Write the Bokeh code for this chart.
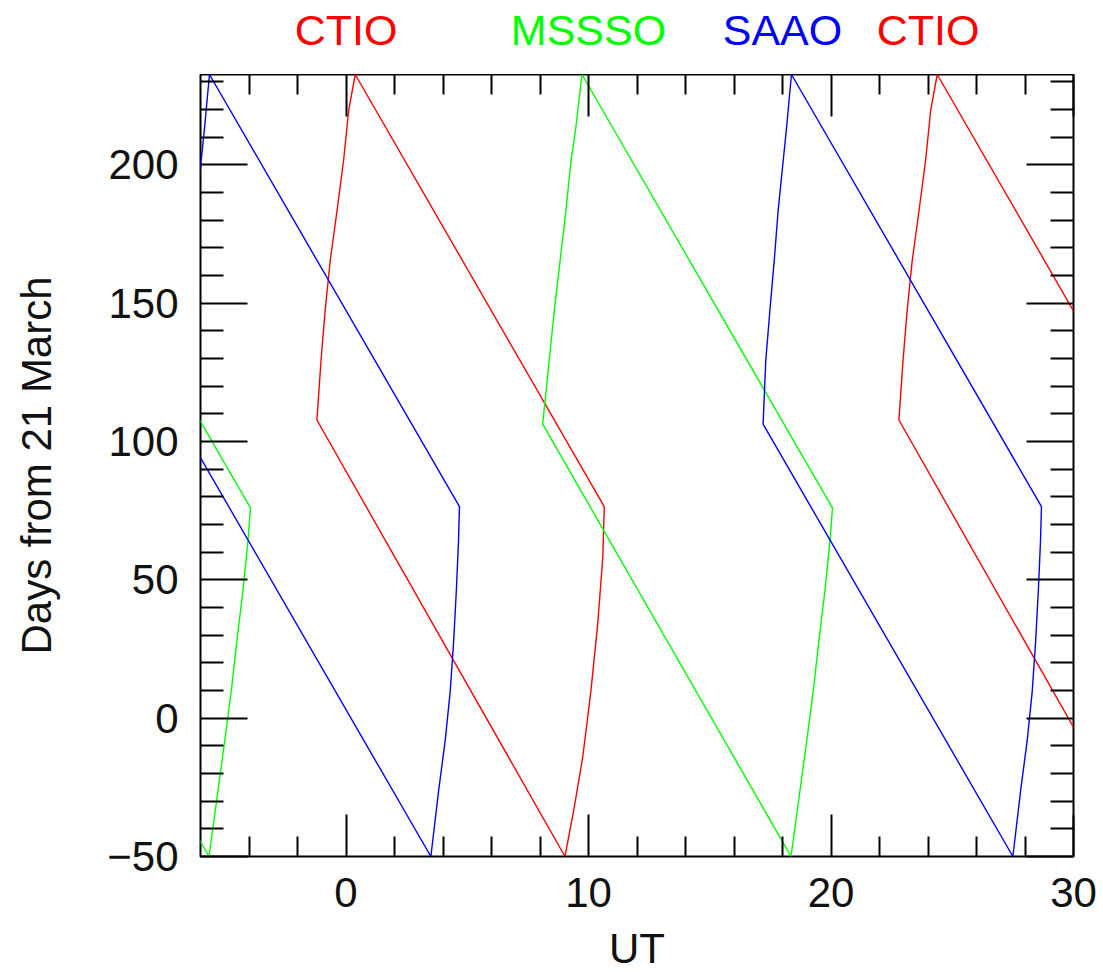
from bokeh.plotting import figure
from bokeh.layouts import column
from bokeh.models import (Range1d, LinearAxis, FixedTicker,
                          ColumnDataSource, CustomJSTickFormatter)
from bokeh.core.properties import value
from bokeh.embed import file_html
from bokeh.resources import INLINE

# Observing-window boundaries (UT hours vs. days from 21 March) for each site.
# Each outline runs: top corner -> evening curve -> lower diagonal ->
# morning curve -> back up the upper diagonal to the top corner.
ctio_ut = [0.38, 0.11, -0.10, -0.37, -0.65, -0.86, -1.03, -1.20,
           9.03, 9.41, 9.76, 10.10, 10.38, 10.59, 10.65, 0.38]
ctio_day = [232.7, 219.7, 201.6, 183.5, 165.5, 147.4, 129.3, 107.8,
            -50.0, -32.3, -14.2, 9.9, 34.1, 58.2, 76.5, 232.7]

mssso_ut = [9.73, 9.48, 9.28, 9.07, 8.83, 8.59, 8.38, 8.11,
            18.35, 18.72, 19.00, 19.27, 19.50, 19.75, 19.96, 20.06, 9.73]
mssso_day = [232.7, 213.7, 201.6, 183.5, 165.5, 147.4, 129.3, 106.3,
             -50.0, -26.2, -8.1, 9.9, 28.0, 46.1, 64.2, 76.0, 232.7]

saao_ut = [18.37, 18.17, 18.03, 17.82, 17.66, 17.48, 17.31, 17.20,
           27.50, 27.82, 28.09, 28.30, 28.44, 28.55, 28.64, 28.68, 18.37]
saao_day = [232.7, 213.7, 201.6, 183.5, 165.5, 147.4, 129.3, 106.3,
            -50.0, -26.2, -8.1, 9.9, 28.0, 46.1, 64.2, 76.5, 232.7]

# UT wraps every 24 h, so each outline repeats a day earlier and later
day_shifts = [-24, 0, 24]

RED, GREEN, BLUE = "#ff0000", "#00ff00", "#0000ff"
sites = [
    ("CTIO", ctio_ut, ctio_day, RED),
    ("MSSSO", mssso_ut, mssso_day, GREEN),
    ("SAAO", saao_ut, saao_day, BLUE),
]

# Site names along the top of the frame
top_names = ["CTIO", "MSSSO", "SAAO", "CTIO"]
top_name_ut = [0, 10, 18, 24]
top_name_colors = [RED, GREEN, BLUE, RED]

x_ticks = [0, 10, 20, 30]
x_tick_labels = ["0", "10", "20", "30"]
y_ticks = [-50, 0, 50, 100, 150, 200]
y_tick_labels = ["\u221250", "0", "50", "100", "150", "200"]

X_MIN, X_MAX = -6, 30
Y_MIN, Y_MAX = -50, 232.7

W = 1103
LEFT, RIGHT = 200, 30
HEAD_H, MAIN_H, FOOT_H = 74, 850, 48
MAIN_BOTTOM = 68

FONT = "Liberation Sans"
FS = "42px"
INK = "#111111"

x_range = Range1d(X_MIN, X_MAX)


def strip(height):
    """A bare strip sharing the UT scale, used for text above/below the plot."""
    f = figure(width=W, height=height, x_range=x_range, y_range=Range1d(0, 1),
               output_backend="svg", toolbar_location=None,
               x_axis_location=None, y_axis_location=None,
               min_border_left=LEFT, min_border_right=RIGHT,
               min_border_top=0, min_border_bottom=0)
    f.outline_line_color = None
    f.grid.visible = False
    f.background_fill_color = "white"
    f.border_fill_color = "white"
    return f


# ---- header with the coloured site names
head = strip(HEAD_H)
head_src = ColumnDataSource(data=dict(x=top_name_ut, y=[0.6] * len(top_names),
                                      text=top_names, color=top_name_colors))
head.text("x", "y", text="text", source=head_src, text_color="color",
          text_font=value(FONT), text_font_size=value("43px"),
          text_align="center", text_baseline="middle")

# ---- main panel
p = figure(width=W, height=MAIN_H, x_range=x_range,
           y_range=Range1d(Y_MIN, Y_MAX),
           output_backend="svg", toolbar_location=None,
           x_axis_location=None, y_axis_location=None,
           min_border_left=LEFT, min_border_right=RIGHT,
           min_border_top=0, min_border_bottom=MAIN_BOTTOM)
p.background_fill_color = "white"
p.border_fill_color = "white"
p.outline_line_color = "black"
p.outline_line_width = 2
p.grid.visible = False

x_minor = [v for v in range(-4, 30, 2) if v % 10 != 0]
y_minor = [v for v in range(-40, 240, 10) if v % 50 != 0]
x_ticker = FixedTicker(ticks=x_ticks, minor_ticks=x_minor)
y_ticker = FixedTicker(ticks=y_ticks, minor_ticks=y_minor)
blank = CustomJSTickFormatter(code="return ''")


def style_axis(ax, major, minor):
    ax.axis_line_color = None
    ax.major_tick_in = major
    ax.major_tick_out = 0
    ax.minor_tick_in = minor
    ax.minor_tick_out = 0
    ax.major_tick_line_color = "black"
    ax.minor_tick_line_color = "black"
    ax.major_tick_line_width = 2
    ax.minor_tick_line_width = 2
    ax.major_label_text_font = FONT
    ax.major_label_text_font_size = FS
    ax.major_label_text_color = INK


bottom = LinearAxis(ticker=x_ticker,
                    major_label_overrides=dict(zip(x_ticks, x_tick_labels)))
style_axis(bottom, 42, 20)
bottom.major_label_standoff = 21
p.add_layout(bottom, "below")

top = LinearAxis(ticker=x_ticker, formatter=blank)
style_axis(top, 42, 20)
p.add_layout(top, "above")

left = LinearAxis(ticker=y_ticker, axis_label="Days from 21 March",
                  major_label_overrides=dict(zip(y_ticks, y_tick_labels)))
style_axis(left, 47, 23)
left.major_label_standoff = 22
left.axis_label_text_font = FONT
left.axis_label_text_font_size = FS
left.axis_label_text_font_style = "normal"
left.axis_label_text_color = INK
left.axis_label_standoff = 44
p.add_layout(left, "left")

right = LinearAxis(ticker=y_ticker, formatter=blank)
style_axis(right, 47, 23)
p.add_layout(right, "right")

for name, ut, day, color in sites:
    for shift in day_shifts:
        src = ColumnDataSource(data=dict(x=[u + shift for u in ut], y=day))
        p.line("x", "y", source=src, line_color=color, line_width=1.4)

# ---- footer with the horizontal axis title
foot = strip(FOOT_H)
foot_src = ColumnDataSource(data=dict(x=[(X_MIN + X_MAX) / 2], y=[0.5],
                                      text=["UT"]))
foot.text("x", "y", text="text", source=foot_src, text_color=INK,
          text_font=value(FONT), text_font_size=value(FS),
          text_align="center", text_baseline="middle")

layout = column(head, p, foot, spacing=0)
open("out.html", "w").write(file_html(layout, INLINE))
